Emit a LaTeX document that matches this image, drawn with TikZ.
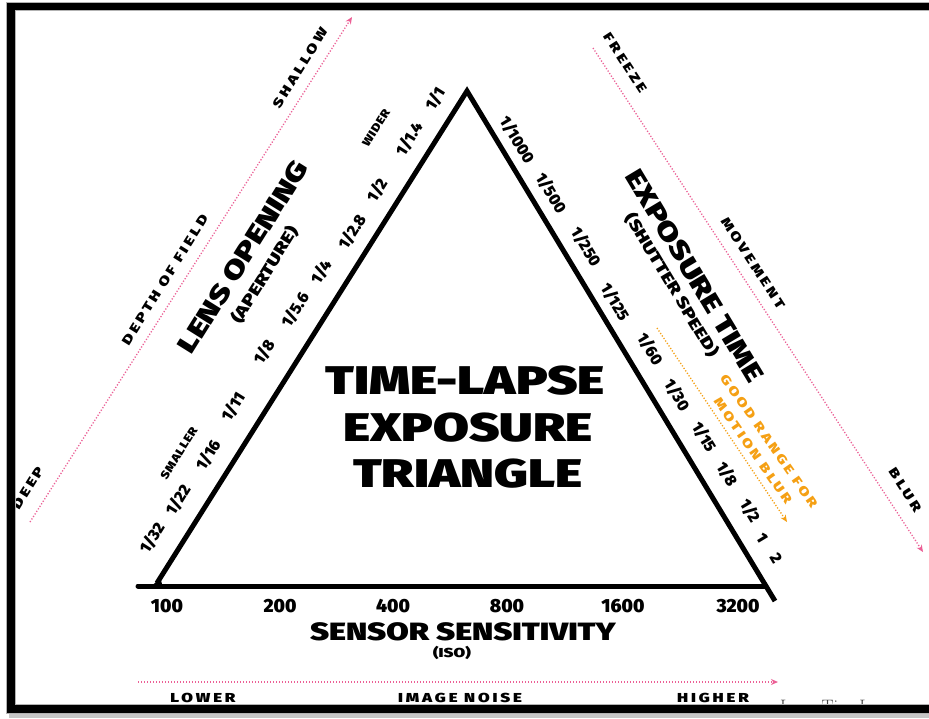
\documentclass[tikz,border=0pt]{standalone}
\usepackage{fontspec}
\usepackage{graphicx}
\usetikzlibrary{arrows.meta}
\IfFontExistsTF{Fira Sans Black}{%
  \newfontfamily\blkfam{Fira Sans Black}[FakeStretch=1.3]
  \newfontfamily\blkmfam{Fira Sans Black}[FakeStretch=1.3]
  \newfontfamily\blknfam{Fira Sans Black}
  \newfontfamily\blkspfam{Fira Sans Black}[FakeStretch=1.3,LetterSpace=22]
  \newfontfamily\blkssfam{Fira Sans Black}[FakeStretch=1.15,LetterSpace=6]
  \newcommand\wt{}
}{%
  \newfontfamily\blkfam{Fira Sans}[FakeStretch=1.3, BoldFeatures={FakeBold=3}]
  \newfontfamily\blkmfam{Fira Sans}[FakeStretch=1.3, BoldFeatures={FakeBold=2.4}]
  \newfontfamily\blknfam{Fira Sans}[BoldFeatures={FakeBold=2.4}]
  \newfontfamily\blkspfam{Fira Sans}[FakeStretch=1.3,LetterSpace=22, BoldFeatures={FakeBold=2}]
  \newfontfamily\blkssfam{Fira Sans}[FakeStretch=1.15,LetterSpace=6, BoldFeatures={FakeBold=2}]
  \newcommand\wt{\bfseries}
}
\newcommand\blk{\blkfam\wt}
\newcommand\blkm{\blkmfam\wt}
\newcommand\blkn{\blknfam\wt}
\newcommand\blksp{\blkspfam\wt}
\newcommand\blkss{\blkssfam\wt}
\definecolor{pinkarr}{RGB}{236,96,150}
\definecolor{orng}{RGB}{245,160,20}
\tikzset{
  every node/.style={inner sep=0pt},
  fnum/.style={font=\blkn\fontsize{16}{16}\selectfont},
  isonum/.style={font=\blkn\fontsize{19}{19}\selectfont},
  head/.style={font=\blk\fontsize{26}{26}\selectfont},
  subhead/.style={font=\blkm\fontsize{16}{16}\selectfont},
  tag/.style={font=\blksp\fontsize{13}{13}\selectfont},
  smalltag/.style={font=\blkss\fontsize{11.5}{11.5}\selectfont},
  orangetag/.style={font=\blksp\fontsize{12.5}{12.5}\selectfont, text=orng},
  bigtitle/.style={font=\blk\fontsize{40}{40}\selectfont},
  triline/.style={line width=5pt, line cap=round},
  pinkdots/.style={pinkarr, line width=1.3pt, dash pattern=on 1.2pt off 1.8pt, -{Stealth[length=7pt,width=6pt]}},
  orangedots/.style={orng, line width=1.3pt, dash pattern=on 1.2pt off 1.8pt, -{Stealth[length=7pt,width=6pt]}},
  lside/.style={rotate=58},
  rside/.style={rotate=-59},
}
\begin{document}
\begin{tikzpicture}[x=1pt,y=-1pt]
\useasboundingbox (0,0) rectangle (929,718);
\fill[white] (0,0) rectangle (929,718);

% triangle
\coordinate (apex) at (467,91);
\coordinate (lcorner) at (157,583);
\coordinate (rcorner) at (775,601);
\coordinate (bstart) at (138,586);
\coordinate (bend) at (766,586);
\draw[triline, line join=miter, line cap=butt] (lcorner) -- (apex) -- (rcorner);
\draw[triline] (bstart) -- (bend);
\fill (140,589) .. controls (150,588) and (156,584) .. (160,576) -- (163,588) -- cycle;

% title
\node[bigtitle] (t1) at (465,381) {TIME-LAPSE};
\node[bigtitle] (t2) at (468,428) {EXPOSURE};
\node[bigtitle] (t3) at (468,474) {TRIANGLE};

% aperture side
\node[fnum, lside] (a32) at (152,538) {1/32};
\node[fnum, lside] (a22) at (178,500) {1/22};
\node[fnum, lside] (a16) at (208,455) {1/16};
\node[fnum, lside] (a11) at (233,407) {1/11};
\node[fnum, lside] (a8) at (264,352) {1/8};
\node[fnum, lside] (a56) at (295,310) {1/5.6};
\node[fnum, lside] (a4) at (321,272) {1/4};
\node[fnum, lside] (a28) at (352,232) {1/2.8};
\node[fnum, lside] (a2) at (377,190) {1/2};
\node[fnum, lside] (a14) at (409,139) {1/1.4};
\node[fnum, lside] (a1) at (435,99) {1/1};
\node[smalltag, lside] (wider) at (376,128) {WIDER};
\node[smalltag, lside] (smaller) at (179,453) {SMALLER};
\node[head, lside] (lens) at (243,257) {LENS OPENING};
\node[subhead, lside] (apert) at (265,275) {(APERTURE)};
\node[tag, lside] (dof) at (165,280) {DEPTH OF FIELD};
\node[tag, lside] (shallow) at (300,68) {SHALLOW};
\node[tag, lside] (deep) at (28,488) {DEEP};
\coordinate (dofa) at (30,522);
\coordinate (dofb) at (352,17);
\draw[pinkdots] (dofa) -- (dofb);

% shutter side
\node[fnum, rside] (s1000) at (517,140) {1/1000};
\node[fnum, rside] (s500) at (551,193) {1/500};
\node[fnum, rside] (s250) at (586,247) {1/250};
\node[fnum, rside] (s125) at (615,302) {1/125};
\node[fnum, rside] (s60) at (650,349) {1/60};
\node[fnum, rside] (s30) at (677,395) {1/30};
\node[fnum, rside] (s15) at (704,437) {1/15};
\node[fnum, rside] (s8) at (727,474) {1/8};
\node[fnum, rside] (s2) at (750,511) {1/2};
\node[fnum, rside] (sone) at (762,538) {1};
\node[fnum, rside] (stwo) at (776,558) {2};
\node[head, rside] (expt) at (695,276) {EXPOSURE TIME};
\node[subhead, rside] (shut) at (672,285) {(SHUTTER SPEED)};
\node[orangetag, rotate=-55] (good) at (769,441) {GOOD RANGE FOR};
\node[orangetag, rotate=-55] (motion) at (753,451) {MOTION BLUR};
\coordinate (oa) at (657,328);
\coordinate (ob) at (787,522);
\draw[orangedots] (oa) -- (ob);
\node[tag, rotate=-57] (freeze) at (625,63) {FREEZE};
\node[tag, rotate=-57] (move) at (753,263) {MOVEMENT};
\node[tag, rotate=-57] (blur) at (905,490) {BLUR};
\coordinate (mva) at (593,48);
\coordinate (mvb) at (923,552);
\draw[pinkdots] (mva) -- (mvb);

% ISO
\node[isonum] (i100) at (167,606) {100};
\node[isonum] (i200) at (280,606) {200};
\node[isonum] (i400) at (393,606) {400};
\node[isonum] (i800) at (507,606) {800};
\node[isonum] (i1600) at (623,606) {1600};
\node[isonum] (i3200) at (738,606) {3200};
\node[font=\blk\fontsize{25}{25}\selectfont] (sens) at (463,632) {SENSOR SENSITIVITY};
\node[font=\blkm\fontsize{13}{13}\selectfont] (iso) at (452,653) {(ISO)};
\coordinate (na) at (138,682);
\coordinate (nb) at (778,682);
\draw[pinkdots] (na) -- (nb);
\node[tag] (lower) at (203,698) {LOWER};
\node[tag] (noise) at (460,698) {IMAGE NOISE};
\node[tag] (higher) at (713,698) {HIGHER};
\node[anchor=base west, font=\fontsize{18}{18}\selectfont, text=black!75] (wm) at (780,712) {LearnTimeLapse.com};

% frame
\fill[gray!45] (9,713) rectangle (929,718);
\fill[gray!60] (6,2) rectangle (929,11);
\fill[gray!60] (6,2) rectangle (16,714);
\fill[gray!60] (6,704) rectangle (929,714);
\fill[black] (7,3) rectangle (929,10);
\fill[black] (7,3) rectangle (15,713);
\fill[black] (7,705) rectangle (929,713);
\end{tikzpicture}
\end{document}
